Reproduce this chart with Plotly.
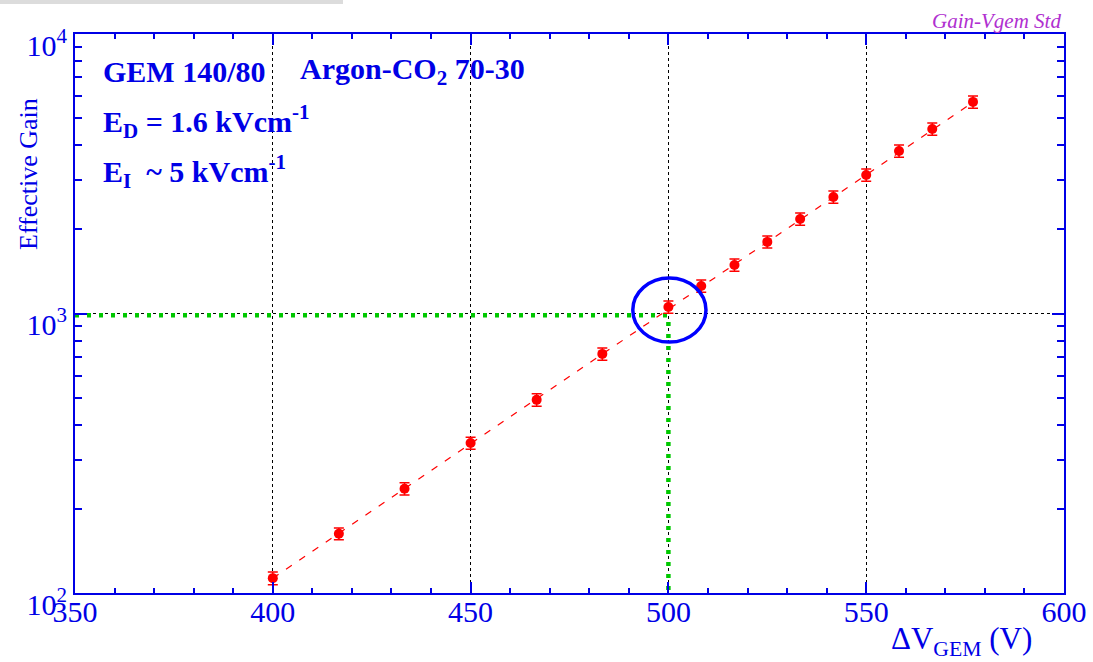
import plotly.graph_objects as go

# Gain vs GEM voltage, Ar-CO2 70-30
voltage = [400, 416.7, 433.3, 450, 466.7, 483.3, 500, 508.3, 516.7, 525,
           533.3, 541.7, 550, 558.3, 566.7, 577]
gain = [113, 163, 236, 344, 491, 717, 1055, 1254, 1492, 1804,
        2178, 2612, 3132, 3814, 4570, 5715]
gain_err = [6, 8, 12, 17, 25, 36, 53, 63, 75, 90,
            109, 131, 157, 191, 229, 286]

# exponential fit, straight on the log axis
fit_voltage = [400, 577]
fit_gain = [113, 5700]

# working point marked on the curve, with its guide lines
work_voltage = 500
work_gain = 1000
guide_gain = 985

x_ticks = [350, 400, 450, 500, 550, 600]
x_minor = [v for v in range(360, 600, 10) if v % 50]
y_ticks = [100, 1000, 10000]
y_ticktext = ["10<sup>2</sup>", "10<sup>3</sup>", "10<sup>4</sup>"]
y_minor = [m * d for d in (100, 1000) for m in range(2, 10)]

BLUE = "#0000e6"
RED = "#ff0000"
GREEN = "#00c800"
SERIF = "Liberation Serif, Tinos, Times New Roman, Times, DejaVu Serif, serif"

W, H = 1093, 662
L, R, T, B = 75, 1064, 34, 593


def fx(px):
    return (px - L) / (R - L)


def fy(py):
    return (B - py) / (B - T)


fig = go.Figure()

fig.add_trace(go.Scatter(
    x=[x_ticks[0], work_voltage, work_voltage],
    y=[guide_gain, guide_gain, y_ticks[0]],
    mode="lines",
    line=dict(color=GREEN, width=4.5, dash="4px,8px"),
    hoverinfo="skip", showlegend=False,
))

fig.add_trace(go.Scatter(
    x=fit_voltage, y=fit_gain, mode="lines",
    line=dict(color=RED, width=1.2, dash="7px,9px"),
    hoverinfo="skip", showlegend=False,
))

fig.add_trace(go.Scatter(
    x=voltage, y=gain, mode="markers",
    marker=dict(color=RED, size=10),
    error_y=dict(type="data", array=gain_err, color=RED,
                 thickness=1.5, width=5),
    showlegend=False,
))

axis_common = dict(
    automargin=False,
    showline=True, linecolor=BLUE, linewidth=2, mirror="allticks",
    ticks="inside", tickcolor=BLUE, tickwidth=2,
    showgrid=True, gridcolor="black", griddash="dot", gridwidth=1,
    zeroline=False,
    tickfont=dict(family=SERIF, size=30, color=BLUE),
)

fig.update_xaxes(
    range=[350, 600], tickvals=x_ticks, ticklen=11,
    ticklabelstandoff=-9,
    minor=dict(tickvals=x_minor, ticks="inside", ticklen=5, tickcolor=BLUE,
               tickwidth=1.5, showgrid=False),
    **axis_common,
)
fig.update_yaxes(
    type="log", range=[2, 4], tickvals=y_ticks, ticktext=y_ticktext,
    ticklen=12, ticklabelshift=11,
    minor=dict(tickvals=y_minor, ticks="inside", ticklen=7,
               tickcolor=BLUE, tickwidth=1.5, showgrid=False),
    **axis_common,
)

shapes = [
    # white panel behind the text block
    dict(type="rect", xref="paper", yref="paper",
         x0=fx(90), x1=fx(552), y0=fy(197), y1=fy(59),
         fillcolor="white", line=dict(width=0), layer="between"),
    # grey strip along the top edge
    dict(type="rect", xref="paper", yref="paper",
         x0=fx(0), x1=fx(343), y0=fy(4), y1=fy(0),
         fillcolor="#dcdcdc", line=dict(width=0), layer="above"),
    # circle around the working point
    dict(type="circle", xref="x", yref="y",
         x0=work_voltage - 9, x1=work_voltage + 9.5,
         y0=work_gain * 0.79, y1=work_gain * 1.34,
         line=dict(color="#0000ff", width=3.5), layer="above"),
]

txt_font = dict(family=SERIF, size=30, color=BLUE)
annotations = [
    dict(text="<b>GEM 140/80</b>", x=fx(101), y=fy(71),
         xanchor="left", yanchor="middle", font=txt_font),
    dict(text="<b>Argon-CO<sub>2</sub> 70-30</b>", x=fx(298), y=fy(71),
         xanchor="left", yanchor="middle", font=txt_font),
    dict(text="<b>E<sub>D</sub> = 1.6 kVcm<sup>-1</sup></b>", x=fx(101), y=fy(121),
         xanchor="left", yanchor="middle", font=txt_font),
    dict(text="<b>E<sub>I</sub>  ~ 5 kVcm<sup>-1</sup></b>", x=fx(101), y=fy(171),
         xanchor="left", yanchor="middle", font=txt_font),
    dict(text="Effective Gain", textangle=-90, x=fx(28), y=fy(174),
         xanchor="center", yanchor="middle",
         font=dict(family=SERIF, size=26, color=BLUE)),
    dict(text="ΔV<sub>GEM</sub> (V)", x=fx(961), y=fy(641),
         xanchor="center", yanchor="middle",
         font=dict(family=SERIF, size=31, color=BLUE)),
    dict(text="<i>Gain-Vgem Std</i>", x=fx(1063), y=fy(21),
         xanchor="right", yanchor="middle",
         font=dict(family=SERIF, size=21, color="#b030d0")),
]
for a in annotations:
    a.update(xref="paper", yref="paper", showarrow=False)

fig.update_layout(
    template="none",
    width=W, height=H,
    margin=dict(l=L, r=W - R, t=T, b=H - B, autoexpand=False),
    plot_bgcolor="white", paper_bgcolor="white",
    shapes=shapes, annotations=annotations,
    showlegend=False,
)

fig.write_html("out.html")
